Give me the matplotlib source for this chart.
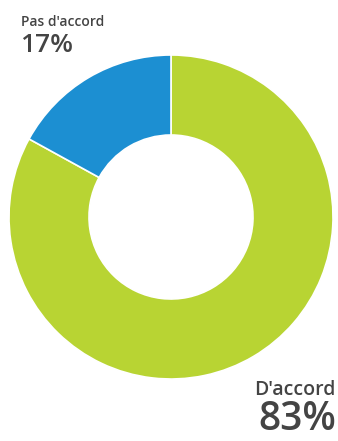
import matplotlib.pyplot as plt

labels = ["D'accord", "Pas d'accord"]
values = [83, 17]
colors = ['#b8d433', '#1c8fd2']

fig = plt.figure(figsize=(3.38, 4.41), dpi=100)
ax = fig.add_axes([0, 0, 1, 1])

# donut, starting at 12 o'clock and going clockwise
ax.pie(values, colors=colors, startangle=90, counterclock=False,
       center=(171, 224), radius=162, frame=True,
       wedgeprops=dict(width=80, edgecolor='white', linewidth=1.2))
ax.set_xlim(0, 338)
ax.set_ylim(0, 441)
ax.set_aspect('equal')
ax.axis('off')

txt = '#444444'
font = dict(family='Open Sans', weight='semibold', color=txt)
ax.text(21, 415, labels[1], fontsize=10, ha='left', va='baseline', **font)
ax.text(20, 389, f'{values[1]}%', fontsize=19, ha='left', va='baseline', **font)
ax.text(335, 46, labels[0], fontsize=14, ha='right', va='baseline', **font)
ax.text(336, 11, f'{values[0]}%', fontsize=28, ha='right', va='baseline', **font)

fig.savefig('out.png', dpi=100)
